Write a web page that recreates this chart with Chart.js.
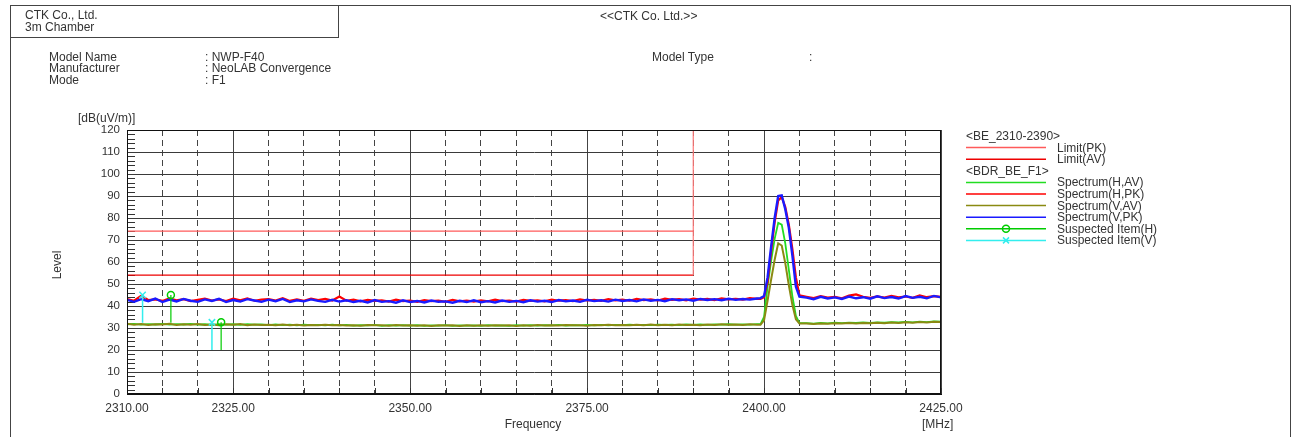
<!DOCTYPE html>
<html><head><meta charset="utf-8">
<script src="https://cdn.jsdelivr.net/npm/chart.js@4.4.1/dist/chart.umd.min.js"></script>
<style>
html,body{margin:0;padding:0;background:#fff;}
#wrap{position:relative;width:1296px;height:437px;overflow:hidden;font-family:"Liberation Sans",Arial,sans-serif;color:#333;}
#wrap canvas{position:absolute;left:0;top:0;}
.t{position:absolute;white-space:nowrap;line-height:12px;font-size:12px;color:#333;}
.frame{position:absolute;border:1px solid #444;box-sizing:border-box;}
</style></head><body>
<div id="wrap">
<canvas id="c" width="1296" height="437"></canvas>
<div class="frame" style="left:10px;top:5px;width:1281px;height:450px;"></div>
<div class="frame" style="left:10px;top:5px;width:329px;height:33px;"></div>
<div class="t" style="left:25px;top:9px">CTK Co., Ltd.</div>
<div class="t" style="left:25px;top:21px">3m Chamber</div>
<div class="t" style="left:600px;top:10px">&lt;&lt;CTK Co. Ltd.&gt;&gt;</div>
<div class="t" style="left:49px;top:51px">Model Name</div>
<div class="t" style="left:49px;top:62px">Manufacturer</div>
<div class="t" style="left:49px;top:74px">Mode</div>
<div class="t" style="left:205px;top:51px">: NWP-F40</div>
<div class="t" style="left:205px;top:62px">: NeoLAB Convergence</div>
<div class="t" style="left:205px;top:74px">: F1</div>
<div class="t" style="left:652px;top:51px">Model Type</div>
<div class="t" style="left:809px;top:51px">:</div>
<div class="t" style="left:78px;top:112px">[dB(uV/m)]</div>
<div class="t" style="left:57px;top:265px;transform:translate(-50%,-50%) rotate(-90deg);">Level</div>
<div class="t" style="left:533px;top:418px;transform:translateX(-50%);">Frequency</div>
<div class="t" style="left:922px;top:418px">[MHz]</div>
<div id="legendText"></div>
</div>
<script>
// ---------- DATA ----------
const freqLow = [];   // 2310 .. 2399 MHz, 1 MHz sweep points
for (let f = 2310; f <= 2399; f++) freqLow.push(f);
const freqPeak = [2399.5, 2400, 2400.5, 2401, 2401.5, 2402, 2402.5, 2403, 2403.5, 2404, 2404.5, 2405];
const freqHigh = [];  // 2406 .. 2425 MHz
for (let f = 2406; f <= 2425; f++) freqHigh.push(f);
const freqs = freqLow.concat(freqPeak, freqHigh);

const specVPK = [
 42.8,41.9,43.1,42.2,43.4,41.8,42.9,42.1,43.2,42.4,
 41.9,43.0,42.3,43.3,41.8,42.7,42.0,43.1,42.5,41.9,
 42.9,42.2,43.2,41.8,42.6,42.1,43.0,42.3,41.9,42.8,
 42.0,42.6,41.8,42.4,41.6,42.7,41.9,42.2,41.5,42.6,
 41.8,42.3,41.6,42.5,41.9,42.1,41.5,42.4,41.8,42.6,
 41.7,42.2,41.6,42.5,41.9,42.3,41.7,42.6,42.0,42.4,
 41.8,42.7,42.1,42.5,41.9,42.8,42.2,42.6,42.0,42.9,
 42.3,42.7,42.1,43.0,42.4,42.8,42.2,43.1,42.6,43.0,
 42.4,43.2,42.7,43.1,42.6,43.3,42.8,43.2,42.9,43.4,
 43.6,44.5,53,67,80,90,90.3,84,75.5,63,48.8,44.2,
 43.8,43.1,44.2,43.4,43.9,43.2,44.3,43.5,44.0,43.3,
 44.4,43.6,44.1,43.4,44.5,43.7,44.2,43.5,44.6,43.9
];
const specHPK = [
 43.2,42.4,44.6,42.7,43.0,42.3,43.5,42.6,43.1,42.2,
 42.8,43.4,42.5,43.0,42.2,43.3,42.6,43.5,42.4,42.9,
 43.1,42.5,43.6,42.3,43.0,42.4,43.4,42.7,43.2,42.5,
 44.3,42.4,42.9,42.1,42.8,42.3,42.6,42.0,42.9,42.2,
 42.5,41.9,42.7,42.2,42.4,41.9,42.8,42.1,42.5,42.0,
 42.6,42.1,42.9,42.2,42.5,42.0,42.8,42.3,42.6,42.1,
 42.9,42.4,42.7,42.2,43.0,42.5,42.8,42.3,43.1,42.6,
 42.9,42.4,43.2,42.7,43.0,42.5,43.3,42.8,43.1,42.6,
 43.4,42.9,43.2,42.7,43.5,43.0,43.3,42.9,43.6,43.2,
 43.2,44,51,65,78,88,89.5,85,77,66,53,44.8,
 44.2,43.6,44.5,43.8,44.1,43.5,44.7,45.3,44.2,43.7,
 44.4,43.8,44.6,43.9,44.3,43.7,44.8,44.0,44.5,44.1
];
const specVAV = [
 31.9,31.5,31.8,31.4,31.7,31.6,31.9,31.4,31.7,31.5,
 31.8,31.4,31.6,31.3,31.7,31.5,31.8,31.3,31.6,31.4,
 31.5,31.2,31.6,31.3,31.5,31.1,31.4,31.2,31.5,31.3,
 31.4,31.1,31.3,31.0,31.4,31.2,31.3,31.0,31.4,31.1,
 31.3,31.0,31.2,30.9,31.3,31.1,31.2,30.9,31.3,31.0,
 31.2,31.0,31.3,31.1,31.2,30.9,31.3,31.0,31.4,31.1,
 31.3,31.1,31.4,31.2,31.3,31.0,31.4,31.2,31.5,31.2,
 31.4,31.2,31.5,31.3,31.6,31.3,31.5,31.2,31.6,31.4,
 31.5,31.3,31.6,31.4,31.7,31.5,31.6,31.4,31.7,31.5,
 31.5,33.5,42.5,52,61,68.5,67.5,59.5,49.5,40.5,34,32,
 32.0,31.8,32.1,31.9,32.2,32.0,32.3,32.1,32.3,32.2,
 32.4,32.2,32.5,32.3,32.6,32.4,32.7,32.5,32.8,32.7
];
const specHAV = [
 31.7,31.9,31.5,31.8,31.6,31.9,31.5,31.8,31.6,31.9,
 31.5,31.7,31.4,31.8,31.5,31.7,31.4,31.7,31.5,31.6,
 31.3,31.6,31.3,31.5,31.2,31.5,31.3,31.4,31.2,31.5,
 31.2,31.4,31.1,31.3,31.2,31.4,31.0,31.3,31.1,31.3,
 31.1,31.3,31.0,31.2,31.1,31.3,31.0,31.2,31.1,31.2,
 31.0,31.3,31.1,31.2,31.0,31.3,31.1,31.3,31.1,31.3,
 31.2,31.4,31.1,31.3,31.2,31.4,31.2,31.4,31.2,31.4,
 31.3,31.5,31.3,31.4,31.3,31.5,31.4,31.5,31.3,31.6,
 31.4,31.6,31.4,31.6,31.5,31.7,31.5,31.6,31.5,31.8,
 31.8,35,49,60.5,70.5,77.8,77,68.5,56.5,44.5,35.5,32.3,
 32.2,32.0,32.3,32.1,32.4,32.2,32.4,32.3,32.5,32.3,
 32.6,32.4,32.7,32.5,32.8,32.6,32.9,32.7,33.0,32.9
];

const limitFreq = [2310, 2390];
const limitPK = [74, 74];
const limitAV = [54, 54];
const limitEdgeTop = 120;

const suspHFreq = [2316.2, 2323.3];
const suspHLevel = [45.0, 32.6];
const suspHBase = [32.4, 20.0];
const suspVFreq = [2312.2, 2322.0];
const suspVLevel = [45.0, 32.6];
const suspVBase = [32.4, 20.0];

const xGridValues = [];
for (let f = 2310; f <= 2425; f += 5) xGridValues.push(f);
const xTickLabels = [2310, 2325, 2350, 2375, 2400, 2425];
const yTicks = [0,10,20,30,40,50,60,70,80,90,100,110,120];
const yMinorTicks = [];
for (let v = 2; v < 120; v += 2) if (v % 10 !== 0) yMinorTicks.push(v);

const legendRows = [
  {text:'<BE_2310-2390>', header:true},
  {text:'Limit(PK)', key:'limPK'},
  {text:'Limit(AV)', key:'limAV'},
  {text:'<BDR_BE_F1>', header:true},
  {text:'Spectrum(H,AV)', key:'hav'},
  {text:'Spectrum(H,PK)', key:'hpk'},
  {text:'Spectrum(V,AV)', key:'vav'},
  {text:'Spectrum(V,PK)', key:'vpk'},
  {text:'Suspected Item(H)', key:'sh'},
  {text:'Suspected Item(V)', key:'sv'}
];

// ---------- STYLE ----------
const COL = {
  limPK:'#ff5a5a', limAV:'#ee0000', limEdge:'#ff7a7a',
  hav:'#22dd22', hpk:'#ff0000', vav:'#8a8a12', vpk:'#1a1aff',
  sh:'#00cc00', sv:'#33eeee'
};
const FONT = '"Liberation Sans", Arial, sans-serif';

const zip = (xs, ys) => xs.map((x, i) => ({x, y: ys[i]}));
function stems(fs, tops, bases) {
  const out = [];
  fs.forEach((f, i) => {
    out.push({x:f, y:bases[i]});
    out.push({x:f, y:tops[i], top:true});
    out.push({x:f, y:null});
  });
  return out;
}

const specDS = (data, color, order, w) => ({
  data, borderColor: color, borderWidth: w, pointRadius: 0, tension: 0, order, fill: false
});

const datasets = [
  {
    data: stems(suspVFreq, suspVLevel, suspVBase), borderColor: COL.sv, borderWidth: 1.5,
    pointStyle: 'crossRot', pointBorderColor: COL.sv, pointBorderWidth: 1.5,
    pointRadius: c => (c.raw && c.raw.top) ? 4.5 : 0, spanGaps: false, order: 0
  },
  {
    data: stems(suspHFreq, suspHLevel, suspHBase), borderColor: COL.sh, borderWidth: 1.2,
    pointStyle: 'circle', pointBorderColor: COL.sh, pointBackgroundColor: 'rgba(0,0,0,0)', pointBorderWidth: 1.5,
    pointRadius: c => (c.raw && c.raw.top) ? 3.5 : 0, spanGaps: false, order: 1
  },
  specDS(zip(freqs, specVPK), COL.vpk, 2, 2.4),
  specDS(zip(freqs, specHPK), COL.hpk, 3, 2.2),
  specDS(zip(freqs, specVAV), COL.vav, 4, 2),
  specDS(zip(freqs, specHAV), COL.hav, 5, 1.8),
  { data: zip(limitFreq, limitPK), borderColor: COL.limPK, borderWidth: 1.2, pointRadius: 0, order: 6 },
  { data: zip(limitFreq, limitAV).concat([{x: limitFreq[1], y: limitEdgeTop}]),
    borderColor: COL.limAV, borderWidth: 1.2, pointRadius: 0, order: 7,
    segment: { borderColor: c => c.p0DataIndex === 1 ? COL.limEdge : COL.limAV } }
];

const decor = {
  id: 'decor',
  beforeDatasetsDraw(chart) {
    const {ctx, chartArea: a, scales: {x, y}} = chart;
    ctx.save();
    ctx.strokeStyle = '#333'; ctx.lineWidth = 1;
    ctx.beginPath();
    yMinorTicks.forEach(v => {
      const py = Math.round(y.getPixelForValue(v)) + 0.5;
      ctx.moveTo(a.left, py); ctx.lineTo(a.left + 8, py);
    });
    xGridValues.forEach(v => {
      const px = Math.round(x.getPixelForValue(v)) + 0.5;
      ctx.moveTo(px, a.bottom); ctx.lineTo(px, a.bottom - 6);
    });
    ctx.stroke();
    ctx.restore();
  },
  afterDraw(chart) {
    const {ctx, chartArea: a} = chart;
    ctx.save();
    ctx.strokeStyle = '#111'; ctx.lineWidth = 1;
    ctx.strokeRect(Math.round(a.left) + 0.5, Math.round(a.top) + 0.5,
                   Math.round(a.right - a.left) - 1, Math.round(a.bottom - a.top) - 1);
    // legend samples
    legendRows.forEach((r, i) => {
      if (r.header) return;
      const yy = 136 + i * 11.6;
      ctx.strokeStyle = COL[r.key]; ctx.lineWidth = 1.5;
      ctx.beginPath(); ctx.moveTo(966, yy); ctx.lineTo(1046, yy); ctx.stroke();
      if (r.key === 'sh') {
        ctx.beginPath(); ctx.arc(1006, yy, 3.5, 0, Math.PI * 2); ctx.stroke();
      } else if (r.key === 'sv') {
        ctx.beginPath();
        ctx.moveTo(1003, yy - 3); ctx.lineTo(1009, yy + 3);
        ctx.moveTo(1009, yy - 3); ctx.lineTo(1003, yy + 3);
        ctx.stroke();
      }
    });
    ctx.restore();
  }
};

// legend text (HTML)
const lt = document.getElementById('legendText');
legendRows.forEach((r, i) => {
  const d = document.createElement('div');
  d.className = 't';
  d.textContent = r.text;
  d.style.left = (r.header ? 966 : 1057) + 'px';
  d.style.top = (136 + i * 11.6 - 6) + 'px';
  lt.appendChild(d);
});

new Chart(document.getElementById('c'), {
  type: 'line',
  data: { datasets },
  options: {
    responsive: false, animation: false, parsing: true,
    layout: { padding: { left: 0, right: 355, top: 130, bottom: 0 } },
    plugins: { legend: { display: false }, tooltip: { enabled: false } },
    scales: {
      x: {
        type: 'linear', min: 2310, max: 2425,
        afterBuildTicks: s => { s.ticks = xGridValues.map(v => ({value: v})); },
        afterFit: s => { s.height = 43; },
        ticks: {
          autoSkip: false, maxRotation: 0, padding: 7, color: '#333',
          font: { family: FONT, size: 12 },
          callback: v => xTickLabels.includes(v) ? v.toFixed(2) : ''
        },
        grid: { color: '#444', lineWidth: 1, drawTicks: false },
        border: { color: '#111', width: 1, dash: c => (c.tick && c.tick.value % 25 !== 0) ? [6, 4] : [] }
      },
      y: {
        min: 0, max: 120,
        afterBuildTicks: s => { s.ticks = yTicks.map(v => ({value: v})); },
        afterFit: s => { s.width = 127; },
        ticks: { padding: 7, color: '#333', font: { family: FONT, size: 11.5 } },
        grid: { color: '#3a3a3a', lineWidth: 1, drawTicks: false },
        border: { color: '#111', width: 1 }
      }
    }
  },
  plugins: [decor]
});
</script>
</body></html>
